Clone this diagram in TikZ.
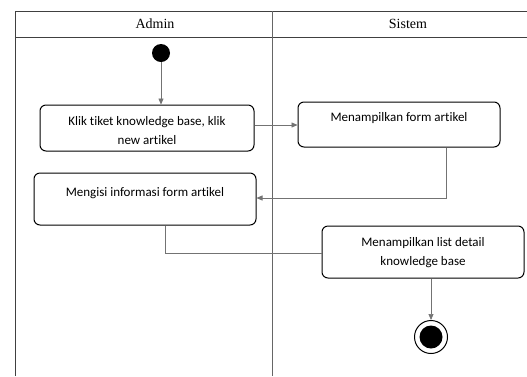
\documentclass[tikz,border=0pt]{standalone}
\usepackage{fontspec}
\setmainfont[Ligatures=NoCommon]{Carlito}
\newfontfamily\headfont{Liberation Serif}
\usetikzlibrary{arrows.meta}
\definecolor{framegray}{gray}{0.25}
\definecolor{flowgray}{gray}{0.45}
\tikzset{
  x=1pt, y=-1pt,
  lane/.style={draw=framegray, line width=0.9pt},
  activity/.style={draw=black, line width=1pt, rounded corners=6pt, inner sep=0pt},
  caption/.style={font=\fontsize{13}{19}\selectfont, align=center, inner sep=0pt},
  header/.style={font=\headfont\fontsize{14}{16}\selectfont, inner sep=0pt},
  flow/.style={draw=flowgray, line width=0.7pt},
  flowarrow/.style={flow, -{Triangle[length=6pt,width=5pt]}, shorten >=0pt},
}
\begin{document}
\begin{tikzpicture}
\useasboundingbox (0,0) rectangle (527,376);
\fill[white] (0,0) rectangle (527,376);

% swimlane frame
\coordinate (tl) at (15,11);
\coordinate (tr) at (527,11);
\coordinate (bl) at (15,376);
\coordinate (ht) at (272,11);
\coordinate (hb) at (272,376);
\coordinate (hl) at (15,37);
\coordinate (hr) at (527,37);
\draw[lane] (bl) -- (tl) -- (tr);
\draw[lane] (hl) -- (hr);
\draw[lane, draw=framegray!80] (ht) -- (hb);
\node[header] (admin) at (155,24) {Admin};
\node[header] (sistem) at (408,24) {Sistem};

% start and end states
\node[circle, fill=black, minimum size=18pt, inner sep=0pt] (start) at (161,53) {};
\node[circle, draw=black, line width=1pt, minimum size=33pt, inner sep=0pt] (final) at (431,337) {};
\node[circle, fill=black, minimum size=23pt, inner sep=0pt] (finaldot) at (431,337) {};

% activities
\node[activity, minimum width=214pt, minimum height=46pt] (a1) at (147,128) {};
\node[caption] (t1) at (147,131) {Klik tiket knowledge base, klik\\new artikel};

\node[activity, minimum width=202pt, minimum height=45pt] (s1) at (399,124.5) {};
\node[caption] (t2) at (399,118) {Menampilkan form artikel};

\node[activity, minimum width=222pt, minimum height=52pt] (a2) at (145,199) {};
\node[caption] (t3) at (145,193) {Mengisi informasi form artikel};

\node[activity, minimum width=202pt, minimum height=52pt] (s2) at (423,252) {};
\node[caption] (t4) at (423,253) {Menampilkan list detail\\knowledge base};

% control flow
\draw[flowarrow] (start) -- (start |- a1.north);
\draw[flowarrow] (a1.east |- 0,125) -- (s1.west |- 0,125);
\draw[flowarrow] (s1.south -| 446,0) |- (a2.east |- 0,198);
\draw[flow] (a2.south -| 165,0) |- (s2.west |- 0,253);
\draw[flowarrow] (s2.south -| final) -- (final.north);
\end{tikzpicture}
\end{document}
